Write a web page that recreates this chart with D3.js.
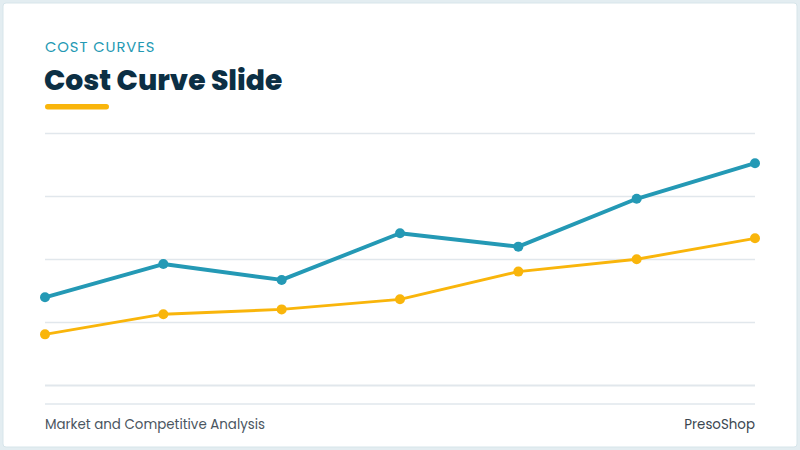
<!DOCTYPE html>
<html>
<head>
<meta charset="utf-8">
<script src="https://cdn.jsdelivr.net/npm/d3@7"></script>
<style>
    html, body { margin: 0; padding: 0; background: #e3edf1; }
    #slide { width: 800px; height: 450px; }
    text { font-family: "Poppins", "Inter", "Open Sans", sans-serif; }
</style>
</head>
<body>
<div id="slide"></div>
<script>
// chart values
var periods = ["P1", "P2", "P3", "P4", "P5", "P6", "P7"];
var costA = [34.8, 48.0, 41.7, 60.2, 54.9, 73.9, 88.0];
var costB = [20.1, 28.1, 30.0, 34.0, 45.0, 49.9, 58.2];
var yTicks = [0, 25, 50, 75, 100];

var slideWidth = 800, slideHeight = 450;
var margin = {top: 133, right: 45, bottom: 65, left: 45};
var width = slideWidth - margin.left - margin.right,
    height = slideHeight - margin.top - margin.bottom;

var svg = d3.select("#slide").append("svg")
    .attr("width", slideWidth)
    .attr("height", slideHeight);

// card
svg.append("rect")
    .attr("x", 3).attr("y", 3)
    .attr("width", slideWidth - 6).attr("height", slideHeight - 6)
    .attr("rx", 3)
    .attr("fill", "#ffffff")
    .attr("stroke", "#d7e5ea")
    .attr("stroke-width", 1);

// header
svg.append("text")
    .attr("x", 45).attr("y", 52)
    .attr("font-size", 14.8)
    .attr("letter-spacing", 0.9)
    .attr("fill", "#2499b3")
    .text("COST CURVES");

svg.append("text")
    .attr("x", 44).attr("y", 90)
    .attr("font-size", 28.2)
    .attr("font-weight", 800)
    .attr("fill", "#0c2f44")
    .text("Cost Curve Slide");

svg.append("rect")
    .attr("x", 45).attr("y", 104)
    .attr("width", 64).attr("height", 5.5)
    .attr("rx", 2.75)
    .attr("fill", "#f9b50b");

var x = d3.scalePoint().domain(periods).range([0, width]);
var y = d3.scaleLinear().domain([0, 100]).range([height, 0]);

var chart = svg.append("g")
    .attr("transform", "translate(" + margin.left + "," + margin.top + ")");

// gridlines from the y axis
chart.append("g")
    .attr("class", "grid")
    .call(d3.axisLeft(y).tickValues(yTicks).tickSize(-width).tickFormat(""))
    .call(function (g) {
        g.select(".domain").remove();
        g.selectAll(".tick line")
            .attr("stroke", "#e1e7ec")
            .attr("stroke-width", function (d) { return d === 0 ? 2 : 1.3; });
    });

// footer separator
svg.append("line")
    .attr("x1", 45).attr("x2", 755)
    .attr("y1", 404).attr("y2", 404)
    .attr("stroke", "#e1e7ec")
    .attr("stroke-width", 1.5);

var series = [
    {name: "A", values: costA, color: "#2499b5", width: 3.9, r: 5},
    {name: "B", values: costB, color: "#f9b50b", width: 2.9, r: 5}
];

var line = d3.line()
    .x(function (d, i) { return x(periods[i]); })
    .y(function (d) { return y(d); });

series.forEach(function (s) {
    chart.append("path")
        .datum(s.values)
        .attr("fill", "none")
        .attr("stroke", s.color)
        .attr("stroke-width", s.width)
        .attr("stroke-linejoin", "round")
        .attr("d", line);

    chart.selectAll(".dot-" + s.name)
        .data(s.values)
        .enter()
        .append("circle")
        .attr("class", "dot-" + s.name)
        .attr("cx", function (d, i) { return x(periods[i]); })
        .attr("cy", function (d) { return y(d); })
        .attr("r", s.r)
        .attr("fill", s.color);
});

// footer
svg.append("text")
    .attr("x", 45).attr("y", 429)
    .attr("font-size", 13.4)
    .attr("fill", "#4b5661")
    .text("Market and Competitive Analysis");

svg.append("text")
    .attr("x", 755).attr("y", 429)
    .attr("text-anchor", "end")
    .attr("font-size", 13.4)
    .attr("fill", "#3b4650")
    .text("PresoShop");
</script>
</body>
</html>
